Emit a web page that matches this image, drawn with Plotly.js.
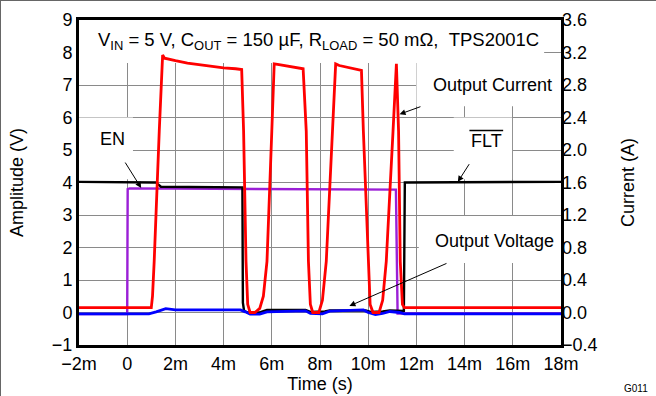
<!DOCTYPE html>
<html><head><meta charset="utf-8">
<script src="https://cdn.plot.ly/plotly-3.0.1.min.js"></script>
<style>html,body{margin:0;padding:0;background:#fff}#c{width:656px;height:396px;box-sizing:border-box;border:1px solid #666}</style>
</head><body><div id="c"></div>
<script>
// time in ms
const redT = [-2.0,1.0,1.05,1.12,1.33,1.47,1.55,1.8,2.0,2.5,3.0,3.5,4.0,4.5,4.75,4.83,4.93,5.0,5.1,5.3,5.5,5.65,5.8,6.0,6.1,6.3,7.0,7.3,7.43,7.52,7.6,7.7,7.95,8.1,8.26,8.53,8.65,8.8,9.5,9.72,9.8,9.99,10.08,10.2,10.45,10.6,10.75,11.03,11.17,11.26,11.33,11.42,11.5,18.0];
const redA = [0.06,0.06,0.2,0.63,2.23,3.17,3.13,3.11,3.10,3.07,3.05,3.03,3.01,3.00,2.99,2.23,0.63,0.1,0.0,0.0,0.05,0.2,0.63,2.23,3.06,3.05,3.02,3.0,2.23,0.63,0.1,0.0,0.0,0.15,0.63,2.23,3.06,3.04,3.0,2.98,2.23,0.63,0.1,0.0,0.0,0.15,0.63,2.23,3.06,2.23,0.63,0.1,0.06,0.06];

const blueT = [-2.0,0.9,1.2,1.6,2.0,4.7,4.9,5.1,5.5,5.8,7.4,7.6,8.1,8.4,9.8,10.0,10.3,10.6,10.9,11.3,11.5,18.0];
const blueV = [-0.04,-0.04,0.02,0.12,0.08,0.08,0.02,-0.05,-0.05,0.02,0.05,-0.03,-0.04,0.04,0.08,0.0,-0.06,-0.03,0.03,0.0,-0.04,-0.04];

const blackT = [-2.0,1.2,1.27,1.4,4.78,4.8,4.85,5.0,5.5,5.8,7.4,7.6,8.2,8.4,9.9,10.1,10.6,10.9,11.48,11.52,18.0];
const blackV = [4.02,4.0,3.95,3.87,3.85,0.3,0.05,0.0,0.0,0.08,0.08,0.02,0.03,0.06,0.06,0.02,0.03,0.06,0.05,4.0,4.02];

const purpleT = [-2.0,0.0,0.02,0.1,11.15,11.22,18.0];
const purpleV = [-0.05,-0.05,3.8,3.82,3.78,-0.03,-0.03];

const xTickVals = [-2,0,2,4,6,8,10,12,14,16,18];
const xTickText = ['\u22122m','0','2m','4m','6m','8m','10m','12m','14m','16m','18m'];
const yTickVals = [-1,0,1,2,3,4,5,6,7,8,9];
const yTickText = ['\u22121','0','1','2','3','4','5','6','7','8','9'];
const y2TickVals = [-0.4,0,0.4,0.8,1.2,1.6,2.0,2.4,2.8,3.2,3.6];
const y2TickText = ['\u22120.4','0.0','0.4','0.8','1.2','1.6','2.0','2.4','2.8','3.2','3.6'];

const F = 'Liberation Sans, Arial, sans-serif';
const FS = 18;
const traces = [
  {x: purpleT, y: purpleV, mode:'lines', line:{color:'#9b1fd6', width:2.4}, yaxis:'y', hoverinfo:'skip'},
  {x: blackT, y: blackV, mode:'lines', line:{color:'#000000', width:2.4}, yaxis:'y', hoverinfo:'skip'},
  {x: blueT, y: blueV, mode:'lines', line:{color:'#0000ff', width:2.8}, yaxis:'y', hoverinfo:'skip'},
  {x: redT, y: redA, mode:'lines', line:{color:'#ff0000', width:2.8}, yaxis:'y2', hoverinfo:'skip'}
];
const box = (x0,x1,y0,y1) => ({type:'rect', xref:'x', yref:'y', x0, x1, y0, y1, fillcolor:'#ffffff', line:{width:0}, layer:'between'});
const arrow = (x,y,ax,ay) => ({x, y, ax, ay, xref:'x', yref:'y', axref:'x', ayref:'y', text:'', showarrow:true, arrowhead:2, arrowsize:1.2, arrowwidth:1, arrowcolor:'#000'});
const label = (x,y,text,xa,fs) => ({x, y, xref:'x', yref:'y', text, showarrow:false, xanchor: xa||'center', yanchor:'middle', font:{family:F, size:fs||FS, color:'#000'}});

const layout = {
  width:656, height:396,
  margin:{l:78, r:96, t:19, b:52},
  paper_bgcolor:'#fff', plot_bgcolor:'#fff',
  showlegend:false,
  font:{family:F, size:FS, color:'#000'},
  xaxis:{range:[-2,18], tickvals:xTickVals, ticktext:xTickText, showgrid:true, gridcolor:'#8a8a8a', gridwidth:1,
         zeroline:false, showline:true, linecolor:'#000', linewidth:3, mirror:true, ticks:'',
         title:{text:'Time (s)', font:{family:F, size:FS}, standoff:3}},
  yaxis:{range:[-1,9], tickvals:yTickVals, ticktext:yTickText, showgrid:true, gridcolor:'#8a8a8a', gridwidth:1,
         zeroline:false, showline:true, linecolor:'#000', linewidth:3, mirror:true, ticks:'',
         title:{text:'Amplitude (V)', font:{family:F, size:FS}, standoff:24}},
  yaxis2:{range:[-0.4,3.6], tickvals:y2TickVals, ticktext:y2TickText, overlaying:'y', side:'right', showgrid:false,
         zeroline:false, showline:false, ticks:'',
         title:{text:'Current (A)', font:{family:F, size:FS}, standoff:24}},
  shapes:[
    box(-2,17.3,7.68,9), box(12.0,18,6.35,7.68), box(-2,0.24,4.1,6.0), box(13.55,15.97,4.1,6.0), box(12.1,18,1.52,2.97),
    {type:'line', xref:'x', yref:'y', x0:14.2, x1:15.6, y0:5.6, y1:5.6, line:{color:'#000', width:1.5}}
  ],
  annotations:[
    label(-1.29, 8.35, 'V<sub>IN</sub> = 5 V, C<sub>OUT</sub> = 150 \u00b5F, R<sub>LOAD</sub> = 50 m\u03a9,  TPS2001C', 'left', 18.5),
    label(-0.63, 5.34, 'EN'),
    label(14.9, 5.28, 'FLT'),
    label(15.17, 7.0, 'Output Current'),
    label(15.23, 2.2, 'Output Voltage'),
    arrow(0.58,3.83,-0.12,4.66),
    arrow(13.72,4.02,14.23,4.61),
    arrow(11.3,6.1,12.23,6.35),
    arrow(9.22,0.2,13.31,1.53),
    {xref:'paper', yref:'paper', x:1.185, y:-0.133, xanchor:'right', yanchor:'middle', text:'G011', showarrow:false, font:{family:F, size:10, color:'#000'}}
  ]
};
Plotly.newPlot('c', traces, layout, {staticPlot:true});
</script></body></html>
